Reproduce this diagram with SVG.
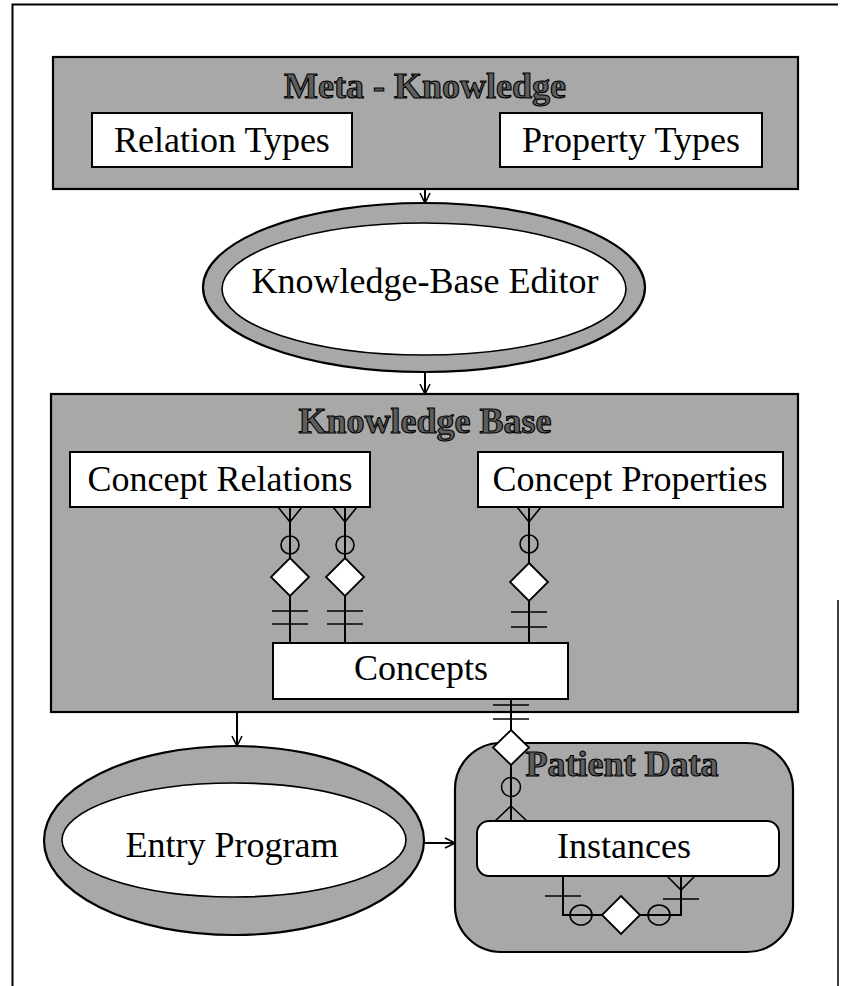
<svg xmlns="http://www.w3.org/2000/svg" width="841" height="986" viewBox="0 0 841 986">
  <defs>
    <marker id="arrow" viewBox="0 0 12 12" refX="11" refY="6" markerWidth="12" markerHeight="12" markerUnits="userSpaceOnUse" orient="auto">
      <path d="M1,1 L11,6 L1,11" fill="none" stroke="#000" stroke-width="1.6"/>
    </marker>
  </defs>
  <style>
    .panel { fill: #a8a8a8; stroke: #000; stroke-width: 2.2; }
    .box { fill: #fff; stroke: #000; stroke-width: 2; }
    .ring { fill: #a8a8a8; stroke: #000; stroke-width: 2.2; }
    .hole { fill: #fff; stroke: #000; stroke-width: 1.6; }
    .label { font-family: "Liberation Serif", "Times New Roman", serif; font-size: 36px; fill: #000; text-anchor: middle; }
    .title { font-family: "Liberation Serif", "Times New Roman", serif; font-size: 36px; font-weight: bold; fill: #5e5e5e; stroke: #000; stroke-width: 1.1; text-anchor: middle; }
    .edge { fill: none; stroke: #000; stroke-width: 2; }
    .mark { fill: none; stroke: #000; stroke-width: 1.6; }
    .dia { fill: #fff; stroke: #000; stroke-width: 1.8; }
  </style>

  <rect width="841" height="986" fill="#fff"/>

  <!-- page frame -->
  <g id="frame" fill="none" stroke="#000">
    <path d="M12.5,986 L12.5,4.5 L838,4.5" stroke-width="2"/>
    <path d="M838,600 L838,986" stroke-width="1.5"/>
  </g>

  <!-- Meta - Knowledge -->
  <g id="meta-knowledge">
    <rect class="panel" x="53" y="57" width="745" height="132"/>
    <text class="title" x="425" y="98">Meta - Knowledge</text>
  </g>
  <g id="relation-types">
    <rect class="box" x="92" y="113" width="260" height="54"/>
    <text class="label" x="222" y="152">Relation Types</text>
  </g>
  <g id="property-types">
    <rect class="box" x="500" y="113" width="262" height="54"/>
    <text class="label" x="631" y="152">Property Types</text>
  </g>

  <!-- Knowledge-Base Editor -->
  <g id="kb-editor">
    <ellipse class="ring" cx="424" cy="287.5" rx="221" ry="84.5"/>
    <ellipse class="hole" cx="424" cy="289" rx="202" ry="66"/>
    <text class="label" x="425" y="293">Knowledge-Base Editor</text>
  </g>

  <!-- Knowledge Base -->
  <g id="knowledge-base">
    <rect class="panel" x="51" y="394" width="747" height="318"/>
    <text class="title" x="425" y="433">Knowledge Base</text>
  </g>
  <g id="concept-relations">
    <rect class="box" x="70" y="452" width="300" height="55"/>
    <text class="label" x="220" y="491">Concept Relations</text>
  </g>
  <g id="concept-properties">
    <rect class="box" x="478" y="452" width="305" height="55"/>
    <text class="label" x="630" y="491">Concept Properties</text>
  </g>
  <g id="concepts">
    <rect class="box" x="273" y="643" width="295" height="56"/>
    <text class="label" x="421" y="680">Concepts</text>
  </g>

  <!-- Entry Program -->
  <g id="entry-program">
    <ellipse class="ring" cx="234" cy="840.5" rx="190" ry="94.5"/>
    <ellipse class="hole" cx="234" cy="840" rx="172" ry="57"/>
    <text class="label" x="232" y="857">Entry Program</text>
  </g>

  <!-- Patient Data -->
  <g id="patient-data">
    <rect class="panel" x="455" y="743" width="338" height="209" rx="46" ry="46"/>
    <text class="title" x="622" y="776">Patient Data</text>
  </g>
  <g id="instances">
    <rect class="box" x="477" y="821" width="302" height="55" rx="12" ry="12"/>
    <text class="label" x="624" y="858">Instances</text>
  </g>

  <!-- connectors -->
  <g id="connectors">
    <!-- flow arrows -->
    <path class="edge" d="M425,189 L425,203" marker-end="url(#arrow)"/>
    <path class="edge" d="M425,372 L425,394" marker-end="url(#arrow)"/>
    <path class="edge" d="M237,712 L237,746" marker-end="url(#arrow)"/>
    <path class="edge" d="M423,843 L455,843" marker-end="url(#arrow)"/>

    <!-- Concept Relations (many) to Concepts (one), first link -->
    <path class="edge" d="M290,507 L290,643"/>
    <path class="mark" d="M278,507 L290,522 L302,507"/>
    <circle class="mark" cx="290" cy="545" r="9"/>
    <path class="dia" d="M290,558 L309,577 L290,596 L271,577 Z"/>
    <path class="mark" d="M272,611 L308,611 M272,624 L308,624"/>

    <!-- Concept Relations to Concepts, second link -->
    <path class="edge" d="M345,507 L345,643"/>
    <path class="mark" d="M333,507 L345,522 L357,507"/>
    <circle class="mark" cx="345" cy="545" r="9"/>
    <path class="dia" d="M345,558 L364,577 L345,596 L326,577 Z"/>
    <path class="mark" d="M327,611 L363,611 M327,624 L363,624"/>

    <!-- Concept Properties to Concepts -->
    <path class="edge" d="M529,507 L529,643"/>
    <path class="mark" d="M517,507 L529,522 L541,507"/>
    <circle class="mark" cx="529" cy="544" r="9"/>
    <path class="dia" d="M529,563 L548,582 L529,601 L510,582 Z"/>
    <path class="mark" d="M511,612 L547,612 M511,627 L547,627"/>

    <!-- Concepts (one) to Instances (many) -->
    <path class="edge" d="M511,699 L511,821"/>
    <path class="mark" d="M493,705 L529,705 M493,719 L529,719"/>
    <path class="dia" d="M511,730 L529,747.5 L511,765 L493,747.5 Z"/>
    <circle class="mark" cx="511" cy="787" r="9.5"/>
    <path class="mark" d="M495,821 L511,806 L527,821"/>

    <!-- Instances self relation -->
    <path class="edge" d="M563,876 L563,915 L681,915 L681,876"/>
    <path class="mark" d="M545,896 L581,896"/>
    <ellipse class="mark" cx="581" cy="915" rx="11" ry="10"/>
    <path class="dia" d="M621,896 L640,915 L621,934 L602,915 Z"/>
    <ellipse class="mark" cx="659" cy="915" rx="11" ry="10"/>
    <path class="mark" d="M667,876 L681,890 L695,876"/>
    <path class="mark" d="M663,899 L699,899"/>
  </g>
</svg>
